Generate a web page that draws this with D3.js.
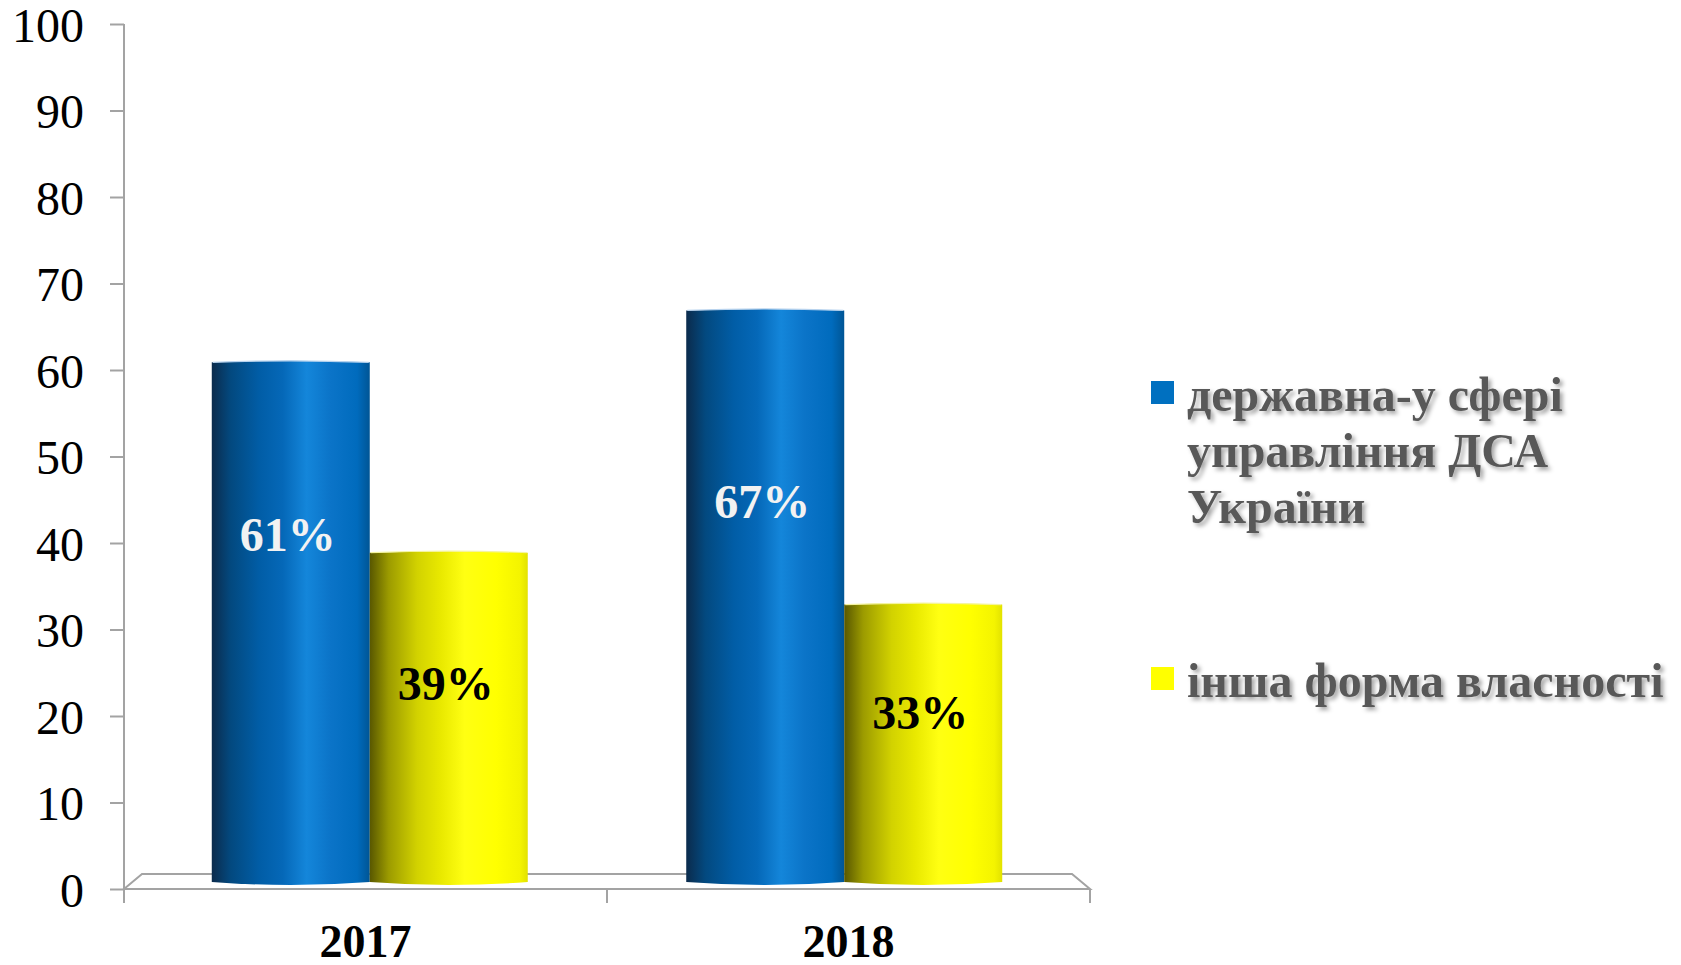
<!DOCTYPE html>
<html>
<head>
<meta charset="utf-8">
<script src="https://cdn.jsdelivr.net/npm/d3@7"></script>
<style>
  html, body { margin: 0; padding: 0; background: #fff; }
  svg { display: block; }
  text { font-family: "Liberation Serif", "Times New Roman", serif; }
</style>
</head>
<body>
<svg id="chart" width="1681" height="965"></svg>
<script>
// data
var years = ['2017', '2018'];
var seriesKeys = ['state', 'other'];
var stateValues = [61, 67];
var otherValues = [39, 33];
var valueLabels = [['61%', '67%'], ['39%', '33%']];
var yTicks = [0, 10, 20, 30, 40, 50, 60, 70, 80, 90, 100];
var legendLines = [
  ['державна-у сфері', 'управління ДСА', 'України'],
  ['інша форма власності']
];

var svg = d3.select('#chart');
var defs = svg.append('defs');

var plotLeft = 124, plotRight = 1090, plotTop = 24, plotBottom = 889;
var depthX = 18, depthY = 15;

var y = d3.scaleLinear().domain([0, 100]).range([plotBottom, plotTop]);
// outer bands: one per year, edges used for the axis ticks
var xOuter = d3.scaleBand().domain(years).range([plotLeft, plotRight]).padding(0);
// groups of bars
var xGroup = d3.scaleBand().domain(years).range([plotLeft, plotRight])
               .paddingInner(0.334).paddingOuter(0.185);
var xSeries = d3.scaleBand().domain(seriesKeys).range([0, xGroup.bandwidth()]);

// cylinder-like gradients
var gradStops = {
  state: [[0, '#0b2b4c'], [0.12, '#03497f'], [0.3, '#015da6'], [0.45, '#0568b8'],
          [0.6, '#1486da'], [0.75, '#0b74c8'], [0.92, '#006bbd'], [1, '#005595']],
  other: [[0, '#585700'], [0.12, '#9c9b00'], [0.3, '#d2d200'], [0.45, '#e9e900'],
          [0.6, '#ffff12'], [0.8, '#ffff00'], [0.95, '#f4f400'], [1, '#e2e200']]
};
seriesKeys.forEach(function(k) {
  var g = defs.append('linearGradient').attr('id', 'grad-' + k)
              .attr('x1', 0).attr('x2', 1).attr('y1', 0).attr('y2', 0);
  gradStops[k].forEach(function(s) {
    g.append('stop').attr('offset', s[0]).attr('stop-color', s[1]);
  });
});

var shadow = defs.append('filter').attr('id', 'txtShadow')
                 .attr('x', '-10%').attr('y', '-20%').attr('width', '130%').attr('height', '150%');
shadow.append('feDropShadow').attr('dx', 3).attr('dy', 3).attr('stdDeviation', 2)
      .attr('flood-color', '#000').attr('flood-opacity', 0.35);

// floor
var axisColor = '#a3a3a3';
svg.append('path')
   .attr('d', 'M' + plotLeft + ',' + plotBottom + 'L' + (plotLeft + depthX) + ',' + (plotBottom - depthY) +
              'L' + (plotRight - depthX) + ',' + (plotBottom - depthY) + 'L' + plotRight + ',' + plotBottom + 'Z')
   .attr('fill', 'none').attr('stroke', axisColor).attr('stroke-width', 2);

// y axis
var yAxis = svg.append('g')
  .attr('transform', 'translate(' + plotLeft + ',0)')
  .call(d3.axisLeft(y).tickValues(yTicks).tickSize(14).tickSizeOuter(0).tickPadding(26));
yAxis.select('.domain').remove();
yAxis.selectAll('.tick line').attr('stroke', axisColor).attr('stroke-width', 2);
yAxis.selectAll('.tick text')
  .attr('font-size', 48).attr('fill', '#000').attr('dy', '0.36em')
  .style('font-family', '"Liberation Serif", serif');
svg.append('line').attr('x1', plotLeft).attr('x2', plotLeft).attr('y1', plotTop).attr('y2', plotBottom + 14)
   .attr('stroke', axisColor).attr('stroke-width', 2);

// x ticks at band edges
var edges = years.map(function(d) { return xOuter(d); }).concat([plotRight]);
svg.selectAll('.xtick').data(edges).enter().append('line')
   .attr('class', 'xtick')
   .attr('x1', function(d) { return d; }).attr('x2', function(d) { return d; })
   .attr('y1', plotBottom).attr('y2', plotBottom + 14)
   .attr('stroke', axisColor).attr('stroke-width', 2);

var xAxis = svg.append('g')
  .attr('transform', 'translate(0,' + plotBottom + ')')
  .call(d3.axisBottom(xOuter).tickSize(0).tickPadding(0));
xAxis.select('.domain').remove();
xAxis.selectAll('.tick text')
  .attr('font-size', 46).attr('font-weight', 'bold').attr('fill', '#000')
  .attr('dy', null).attr('y', 68)
  .style('font-family', '"Liberation Serif", serif');

// bars
var seriesValues = [stateValues, otherValues];
var labelColors = ['#f2f2f2', '#000'];
var labelFrac = [0.64, 0.56];
var barBase = plotBottom - 7;
var bulge = 3;

var rows = [];
years.forEach(function(yr, i) {
  seriesKeys.forEach(function(k, j) {
    rows.push({ year: yr, key: k, value: seriesValues[j][i], label: valueLabels[j][i], s: j });
  });
});

var barG = svg.append('g');
barG.selectAll('.bar').data(rows).enter().append('path')
  .attr('class', 'bar')
  .attr('fill', function(d) { return 'url(#grad-' + d.key + ')'; })
  .attr('d', function(d) {
    var x0 = xGroup(d.year) + xSeries(d.key), x1 = x0 + xSeries.bandwidth();
    var yt = y(d.value), xm = (x0 + x1) / 2;
    return 'M' + x0 + ',' + (yt + 1) + 'Q' + xm + ',' + (yt - 2) + ' ' + x1 + ',' + (yt + 1) +
           'L' + x1 + ',' + barBase + 'Q' + xm + ',' + (barBase + 2 * bulge) + ' ' + x0 + ',' + barBase + 'Z';
  });
barG.selectAll('.bartop').data(rows).enter().append('path')
  .attr('class', 'bartop')
  .attr('fill', 'none')
  .attr('stroke', function(d) { return d.key === 'state' ? '#b8d3ee' : '#f4f4a0'; })
  .attr('stroke-width', 1.2)
  .attr('d', function(d) {
    var x0 = xGroup(d.year) + xSeries(d.key), x1 = x0 + xSeries.bandwidth();
    var yt = y(d.value), xm = (x0 + x1) / 2;
    return 'M' + (x0 + 1) + ',' + (yt + 1) + 'Q' + xm + ',' + (yt - 2) + ' ' + (x1 - 1) + ',' + (yt + 1);
  });

barG.selectAll('.vlabel').data(rows).enter().append('text')
  .attr('class', 'vlabel')
  .attr('x', function(d) { return xGroup(d.year) + xSeries(d.key) + xSeries.bandwidth() / 2 - 3; })
  .attr('y', function(d) { return y(d.value * labelFrac[d.s]); })
  .attr('text-anchor', 'middle')
  .attr('font-size', 48).attr('font-weight', 'bold')
  .attr('fill', function(d) { return labelColors[d.s]; })
  .text(function(d) { return d.label; });

// legend
var legendColors = ['#0070c0', '#ffff00'];
var legendTop = [381, 667];
var lg = svg.append('g');
legendLines.forEach(function(lines, i) {
  lg.append('rect').attr('x', 1151).attr('y', legendTop[i]).attr('width', 23).attr('height', 23)
    .attr('fill', legendColors[i]);
  var t = lg.append('text').attr('x', 1187).attr('y', legendTop[i] + 30)
    .attr('font-size', 48).attr('font-weight', 'bold').attr('fill', '#595959')
    .attr('filter', 'url(#txtShadow)');
  lines.forEach(function(l, k) {
    t.append('tspan').attr('x', 1187).attr('dy', k === 0 ? 0 : 56).text(l);
  });
});
</script>
</body>
</html>
